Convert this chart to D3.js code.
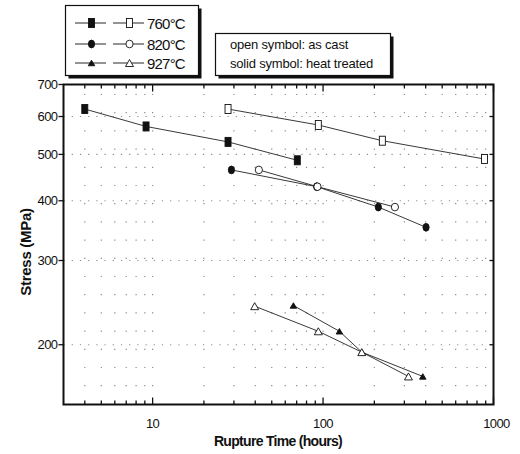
<!DOCTYPE html>
<html>
<head>
<meta charset="utf-8">
<script src="https://cdn.jsdelivr.net/npm/d3@7"></script>
<style>
  body { margin: 0; background: #fff; }
  text { font-family: "Liberation Sans", Arial, sans-serif; fill: #111; }
</style>
</head>
<body>
<div id="chart"></div>
<script>
// Data (rupture time in hours, stress in MPa)
var tempLabels = ["760°C", "820°C", "927°C"];

var time760Solid = [4.0, 9.15, 27.7, 70.6];
var stress760Solid = [622, 572, 531, 486];
var time760Open = [27.7, 93.8, 222.8, 885];
var stress760Open = [622, 576, 534, 489];

var time820Solid = [29, 91.8, 211, 402];
var stress820Solid = [464, 428, 388, 352];
var time820Open = [42, 92.7, 264];
var stress820Open = [464, 428, 388];

var time927Solid = [67, 124.7, 168.7, 384.7];
var stress927Solid = [241.6, 213.4, 193, 171.7];
var time927Open = [39.7, 93.8, 168.7, 317];
var stress927Open = [240.8, 213.4, 193, 171.7];

var xTickLabels = [10, 100, 1000];
var yTickLabels = [200, 300, 400, 500, 600, 700];

var width = 520,
    height = 454,
    margin = { top: 84.5, right: 26.5, bottom: 49.5, left: 63.5 };

var svg = d3.select("#chart")
    .append("svg")
    .attr("width", width)
    .attr("height", height);

var x = d3.scaleLog()
    .domain([3, 1000])
    .range([margin.left, width - margin.right]);

var y = d3.scaleLog()
    .domain([150, 700])
    .range([height - margin.bottom, margin.top]);

var x0 = margin.left, x1 = width - margin.right,
    y0 = height - margin.bottom, y1 = margin.top;

// minor positions along x: 4..9, 10..90, 100..900, 1000
var xMinor = [];
[1, 10, 100].forEach(function(dec) {
    for (var k = 1; k <= 9; k++) {
        var v = k * dec;
        if (v > 3) xMinor.push(v);
    }
});
xMinor.push(1000);

// dotted grid
svg.append("g").selectAll("line")
    .data(xMinor.filter(d => d < 1000))
    .enter().append("line")
    .attr("x1", d => x(d)).attr("x2", d => x(d))
    .attr("y1", y0).attr("y2", y1)
    .attr("stroke", "#8a8a8a")
    .attr("stroke-width", 1.2)
    .attr("stroke-dasharray", "1.2,17");

svg.append("g").selectAll("line")
    .data(yTickLabels.filter(d => d < 700))
    .enter().append("line")
    .attr("x1", x0).attr("x2", x1)
    .attr("y1", d => y(d)).attr("y2", d => y(d))
    .attr("stroke", "#8a8a8a")
    .attr("stroke-width", 1.2)
    .attr("stroke-dasharray", "1.2,7");

// series
var series = [
    { t: time760Solid, s: stress760Solid, shape: "square", fill: true },
    { t: time760Open, s: stress760Open, shape: "square", fill: false },
    { t: time820Solid, s: stress820Solid, shape: "circle", fill: true },
    { t: time820Open, s: stress820Open, shape: "circle", fill: false },
    { t: time927Solid, s: stress927Solid, shape: "triangle", fill: true },
    { t: time927Open, s: stress927Open, shape: "triangle", fill: false }
];

var line = d3.line()
    .x(d => x(d[0]))
    .y(d => y(d[1]));

function drawMarker(g, shape, fill, cx, cy) {
    var f = fill ? "#111" : "#fff";
    if (shape === "square") {
        g.append("rect")
            .attr("x", cx - 3).attr("y", cy - 4.5)
            .attr("width", 6).attr("height", 9)
            .attr("fill", f).attr("stroke", "#111").attr("stroke-width", 0.9);
    } else if (shape === "circle") {
        g.append("ellipse")
            .attr("cx", cx).attr("cy", cy)
            .attr("rx", fill ? 3.1 : 3.6).attr("ry", fill ? 3.9 : 3.8)
            .attr("fill", f).attr("stroke", "#111").attr("stroke-width", 0.9);
    } else {
        var w = fill ? 6.5 : 8, h = fill ? 5.5 : 7;
        g.append("path")
            .attr("d", "M" + cx + "," + (cy - h / 2) + "L" + (cx + w / 2) + "," + (cy + h / 2) +
                "L" + (cx - w / 2) + "," + (cy + h / 2) + "Z")
            .attr("fill", f).attr("stroke", "#111").attr("stroke-width", 0.9);
    }
}

series.forEach(function(sr) {
    var pts = sr.t.map((t, i) => [t, sr.s[i]]);
    svg.append("path")
        .datum(pts)
        .attr("d", line)
        .attr("fill", "none")
        .attr("stroke", "#222")
        .attr("stroke-width", 0.9);
});
series.forEach(function(sr) {
    var g = svg.append("g");
    sr.t.forEach(function(t, i) {
        drawMarker(g, sr.shape, sr.fill, x(t), y(sr.s[i]));
    });
});

// frame
svg.append("rect")
    .attr("x", x0).attr("y", y1)
    .attr("width", x1 - x0).attr("height", y0 - y1)
    .attr("fill", "none")
    .attr("stroke", "#111")
    .attr("stroke-width", 2);

// x ticks, inward on bottom and top
var xt = svg.append("g");
xMinor.forEach(function(v) {
    var len = (xTickLabels.indexOf(v) >= 0) ? 7 : 4;
    xt.append("line").attr("x1", x(v)).attr("x2", x(v))
        .attr("y1", y0).attr("y2", y0 - len).attr("stroke", "#111").attr("stroke-width", 1.3);
    xt.append("line").attr("x1", x(v)).attr("x2", x(v))
        .attr("y1", y1).attr("y2", y1 + len).attr("stroke", "#111").attr("stroke-width", 1.3);
});
xt.selectAll("text")
    .data(xTickLabels)
    .enter().append("text")
    .attr("x", d => x(d) + (d === 1000 ? 3 : 0))
    .attr("y", y0 + 23)
    .attr("text-anchor", "middle")
    .attr("font-size", 13)
    .attr("letter-spacing", -0.6)
    .text(d => d);

// y ticks, outward on left, inward on right
var yt = svg.append("g");
yTickLabels.forEach(function(v) {
    yt.append("line").attr("x1", x0 - 5).attr("x2", x0)
        .attr("y1", y(v)).attr("y2", y(v)).attr("stroke", "#111").attr("stroke-width", 1.3);
    yt.append("line").attr("x1", x1).attr("x2", x1 - 4)
        .attr("y1", y(v)).attr("y2", y(v)).attr("stroke", "#111").attr("stroke-width", 1.3);
});
yt.selectAll("text")
    .data(yTickLabels)
    .enter().append("text")
    .attr("x", x0 - 6)
    .attr("y", d => y(d) + 4.5)
    .attr("text-anchor", "end")
    .attr("font-size", 13)
    .attr("letter-spacing", -0.6)
    .text(d => d);

// axis titles
svg.append("text")
    .attr("x", 278)
    .attr("y", 446)
    .attr("text-anchor", "middle")
    .attr("font-size", 14)
    .attr("font-weight", "bold")
    .attr("letter-spacing", -0.7)
    .text("Rupture Time (hours)");

svg.append("text")
    .attr("transform", "translate(31,252) rotate(-90)")
    .attr("text-anchor", "middle")
    .attr("font-size", 15)
    .attr("font-weight", "bold")
    .attr("letter-spacing", -0.3)
    .text("Stress (MPa)");

// legend boxes with drop shadow
function shadowBox(bx, by, bw, bh) {
    svg.append("rect")
        .attr("x", bx + 3).attr("y", by + 3)
        .attr("width", bw).attr("height", bh)
        .attr("fill", "#111");
    svg.append("rect")
        .attr("x", bx).attr("y", by)
        .attr("width", bw).attr("height", bh)
        .attr("fill", "#fff")
        .attr("stroke", "#111")
        .attr("stroke-width", 1.2);
}

shadowBox(65.5, 5.5, 133, 70);
var shapes = ["square", "circle", "triangle"];
var rowY = [23, 44, 63];
tempLabels.forEach(function(lbl, i) {
    var g = svg.append("g");
    g.append("line").attr("x1", 75).attr("x2", 106).attr("y1", rowY[i]).attr("y2", rowY[i])
        .attr("stroke", "#111").attr("stroke-width", 0.9);
    g.append("line").attr("x1", 113).attr("x2", 144).attr("y1", rowY[i]).attr("y2", rowY[i])
        .attr("stroke", "#111").attr("stroke-width", 0.9);
    drawMarker(g, shapes[i], true, 91.5, rowY[i]);
    drawMarker(g, shapes[i], false, 129.5, rowY[i]);
    g.append("text")
        .attr("x", 147)
        .attr("y", rowY[i] + 5.5)
        .attr("font-size", 15)
        .attr("letter-spacing", -0.8)
        .text(lbl);
});

shadowBox(215.5, 33.5, 175, 42);
svg.append("text")
    .attr("x", 230).attr("y", 49)
    .attr("font-size", 13)
    .attr("letter-spacing", -0.2)
    .text("open symbol: as cast");
svg.append("text")
    .attr("x", 230).attr("y", 68)
    .attr("font-size", 13)
    .attr("letter-spacing", -0.2)
    .text("solid symbol: heat treated");
</script>
</body>
</html>
